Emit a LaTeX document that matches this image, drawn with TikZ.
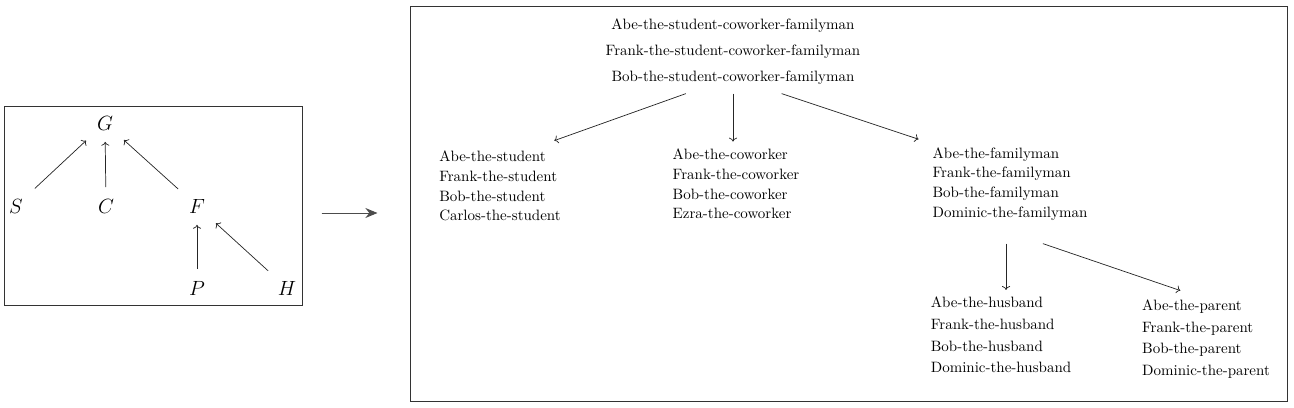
\documentclass[tikz,border=0pt]{standalone}
\usetikzlibrary{arrows.meta}

\begin{document}
\begin{tikzpicture}[x=0.7pt, y=-0.7pt,
    letter/.style={inner sep=0pt, minimum size=26pt, font=\fontsize{15}{18}\selectfont},
    people/.style={inner sep=0pt, align=left, font=\fontsize{10.5}{12.6}\selectfont},
    frame/.style={draw=black!80, line width=0.7pt, inner sep=0pt},
    edge/.style={->, draw=black!85, line width=0.5pt},
    bigarrow/.style={-{Stealth[length=8.5pt, width=7pt]}, draw=black!70, fill=black!70, line width=0.7pt}]
            \useasboundingbox (0, 0) rectangle (1294, 408);

            \node[frame, minimum width=207.9pt, minimum height=138.6pt] (lhs) at (153.5, 206) {};
            \node[frame, minimum width=613.9pt, minimum height=275.8pt] (rhs) at (848.5, 204) {};

            \node[letter] (g) at (105, 123) {$G$};
            \node[letter] (s) at (16, 206) {$S$};
            \node[letter] (c) at (106, 206) {$C$};
            \node[letter] (f) at (197, 206) {$F$};
            \node[letter] (p) at (197, 288) {$P$};
            \node[letter] (h) at (287, 288) {$H$};

            \draw[edge] (s) to (g);
            \draw[edge] (c) to (g);
            \draw[edge] (f) to (g);
            \draw[edge] (p) to (f);
            \draw[edge] (h) to (f);

            \draw[bigarrow, shorten <=13.3pt, shorten >=22.4pt] ([yshift=-4.9pt]lhs.east) -- ([yshift=-4.9pt]lhs.east -| rhs.west);

            \node[inner sep=0pt, align=center, font=\fontsize{10.5}{12.6}\selectfont] (top) at (733, 52) {Abe-the-student-coworker-familyman\\[5.5pt]
                Frank-the-student-coworker-familyman\\[5.5pt]
                Bob-the-student-coworker-familyman};

            \node[people] (stu) at (500, 186) {Abe-the-student\\[1.2pt] Frank-the-student\\[1.2pt] Bob-the-student\\[1.2pt] Carlos-the-student};
            \node[people] (cow) at (736, 184) {Abe-the-coworker\\[1.2pt] Frank-the-coworker\\[1.2pt] Bob-the-coworker\\[1.2pt] Ezra-the-coworker};
            \node[people] (fam) at (1010, 184) {Abe-the-familyman\\[1.2pt] Frank-the-familyman\\[1.2pt] Bob-the-familyman\\[1.2pt] Dominic-the-familyman};
            \node[people] (hus) at (1001, 335) {Abe-the-husband\\[2.5pt] Frank-the-husband\\[2.5pt] Bob-the-husband\\[2.5pt] Dominic-the-husband};
            \node[people] (par) at (1206, 339) {Abe-the-parent\\[2.5pt] Frank-the-parent\\[2.5pt] Bob-the-parent\\[2.5pt] Dominic-the-parent};

            \draw[edge] ([xshift=-33pt, yshift=-6pt]top.south) to ([xshift=38pt, yshift=7pt]stu.north);
            \draw[edge] ([yshift=-6pt]top.south) to ([yshift=5pt]top.south |- cow.north);
            \draw[edge] ([xshift=34pt, yshift=-6pt]top.south) to ([xshift=-64pt, yshift=5.6pt]fam.north);
            \draw[edge] ([xshift=-2.8pt, yshift=-16pt]fam.south) to ([xshift=-2.8pt, yshift=4.9pt]fam.south |- hus.north);
            \draw[edge] ([xshift=23pt, yshift=-16pt]fam.south) to ([xshift=-18pt, yshift=6.3pt]par.north);
        \end{tikzpicture}
\end{document}
